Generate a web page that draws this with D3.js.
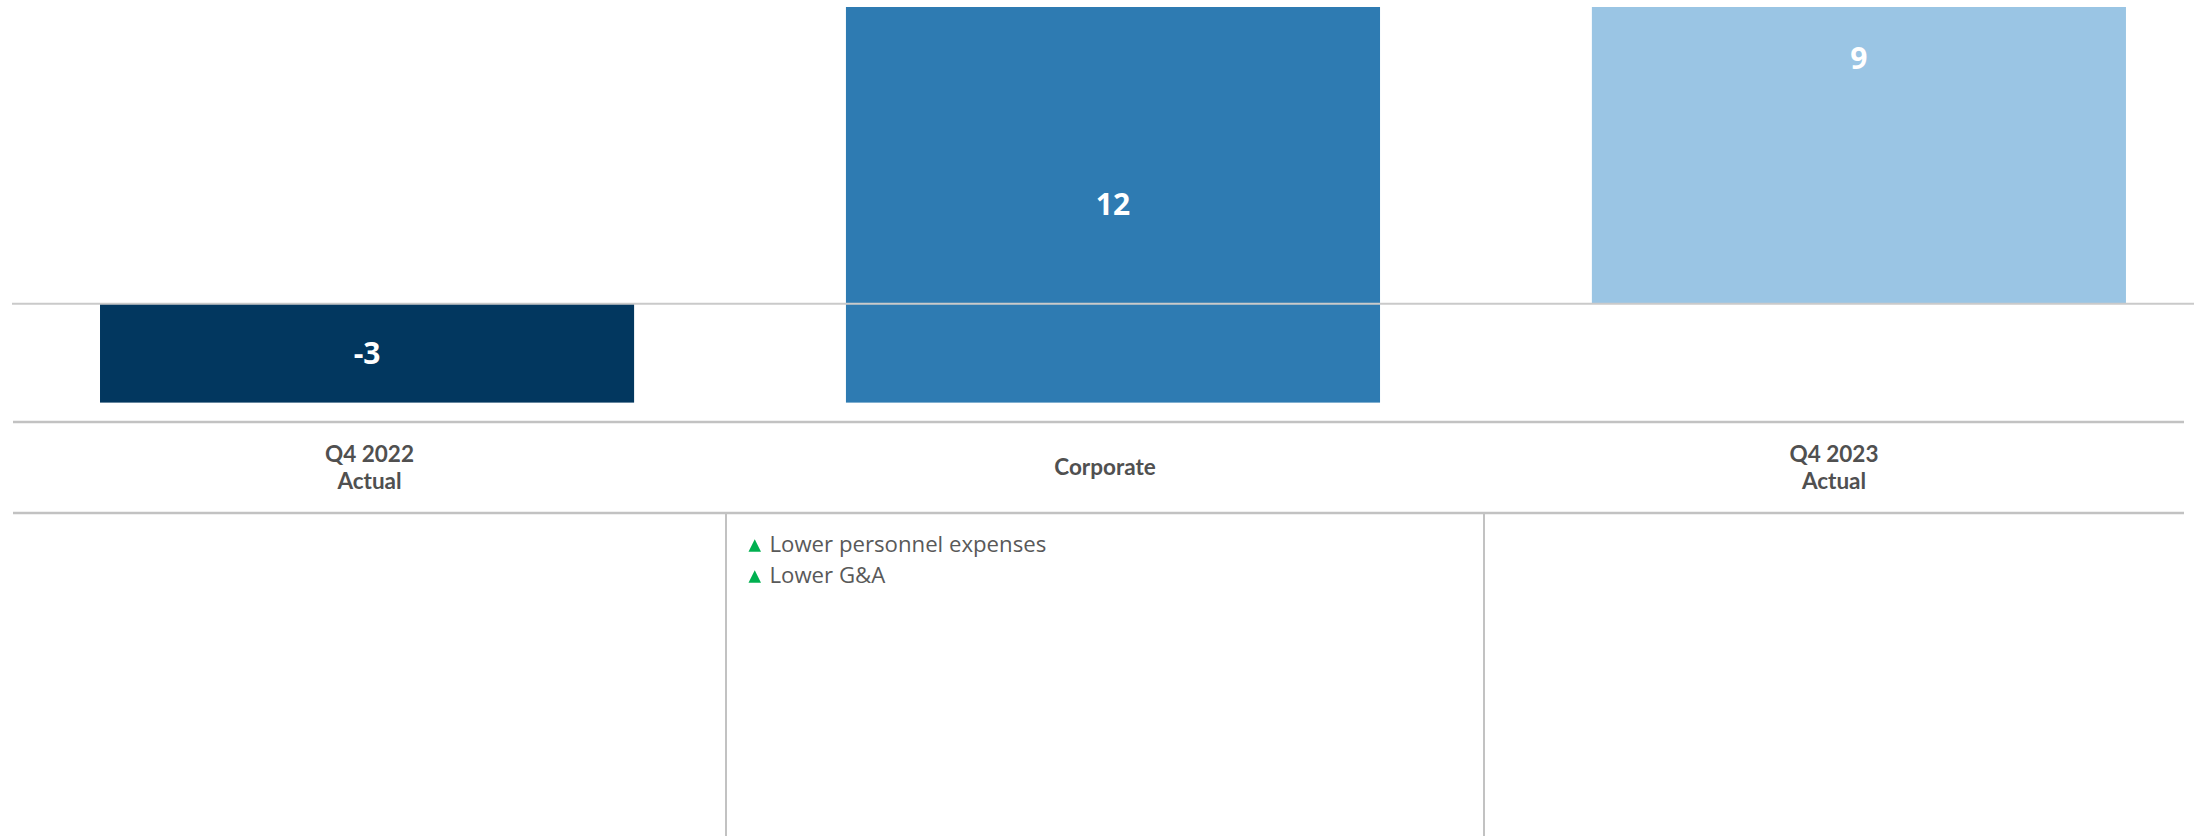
<!DOCTYPE html>
<html>
<head>
<meta charset="utf-8">
<script src="https://cdn.jsdelivr.net/npm/d3@7"></script>
<style>
  html, body { margin: 0; padding: 0; background: #ffffff; }
  svg { display: block; }
</style>
</head>
<body>
<div id="chart"></div>
<script>
// Bridge data: Q4 2022 result, corporate change, Q4 2023 result
const categories = ["Q4 2022 Actual", "Corporate", "Q4 2023 Actual"];
const categoryLabels = [["Q4 2022", "Actual"], ["Corporate"], ["Q4 2023", "Actual"]];
const values = [-3, 12, 9];
const barKinds = ["total", "delta", "total"];
const barColors = ["#02375F", "#2E7BB2", "#9AC5E4"];
const drivers = [
  [],
  [{ dir: "up", text: "Lower personnel expenses" }, { dir: "up", text: "Lower G&A" }],
  []
];

const W = 2208, H = 836;

// Stack the waterfall: totals start at zero, deltas start from the running level
let running = 0;
const bars = categories.map((c, i) => {
  let y0, y1;
  if (barKinds[i] === "total") { y0 = 0; y1 = values[i]; }
  else { y0 = running; y1 = running + values[i]; }
  running = y1;
  return { cat: c, value: values[i], kind: barKinds[i], y0, y1, color: barColors[i], i };
});

const svg = d3.select("#chart").append("svg")
  .attr("width", W).attr("height", H);

const x = d3.scaleBand()
  .domain(categories)
  .range([12, 2194])
  .paddingInner(0.284)
  .paddingOuter(0.1046)
  .align(0.564);

const yExtent = d3.extent(bars.flatMap(b => [b.y0, b.y1]));
const y = d3.scaleLinear().domain(yExtent).range([402.6, 7]);

// Bars
svg.append("g").selectAll("rect")
  .data(bars)
  .join("rect")
  .attr("x", d => x(d.cat))
  .attr("width", x.bandwidth())
  .attr("y", d => y(Math.max(d.y0, d.y1)))
  .attr("height", d => Math.abs(y(d.y0) - y(d.y1)))
  .attr("fill", d => d.color);

// Zero line over the bars
svg.append("line")
  .attr("x1", 12).attr("x2", 2194)
  .attr("y1", y(0)).attr("y2", y(0))
  .attr("stroke", "#CACACA").attr("stroke-width", 2);

// Value labels (plain hyphen for negatives)
svg.append("g").selectAll("text")
  .data(bars)
  .join("text")
  .attr("x", d => x(d.cat) + x.bandwidth() / 2)
  .attr("y", d => {
    const top = y(Math.max(d.y0, d.y1)), bot = y(Math.min(d.y0, d.y1));
    if (d.kind === "total" && d.value > 0) return top + 51;
    return (top + bot) / 2;
  })
  .attr("dy", "0.35em")
  .attr("text-anchor", "middle")
  .attr("fill", "#ffffff")
  .attr("font-family", "'Open Sans', sans-serif")
  .attr("font-weight", 700)
  .attr("font-size", 30)
  .text(d => String(d.value));

// Category table below the chart
const colEdges = [13, 726, 1484, 2184];
const rowTop = 422, rowBottom = 513;
const grid = svg.append("g").attr("stroke", "#C2C2C2").attr("stroke-width", 2.5);
[rowTop, rowBottom].forEach(yy => {
  grid.append("line").attr("x1", colEdges[0]).attr("x2", colEdges[3]).attr("y1", yy).attr("y2", yy);
});
grid.selectAll(".div")
  .data(colEdges.slice(1, 3))
  .join("line")
  .attr("x1", d => d).attr("x2", d => d)
  .attr("y1", rowBottom).attr("y2", H)
  .attr("stroke-width", 2);

const lineH = 27;
const catG = svg.append("g")
  .attr("font-family", "Lato, 'Open Sans', sans-serif")
  .attr("font-weight", 700)
  .attr("font-size", 22.5)
  .attr("fill", "#505050")
  .attr("text-anchor", "middle");
categoryLabels.forEach((lines, i) => {
  const cx = (colEdges[i] + colEdges[i + 1]) / 2;
  const mid = (rowTop + rowBottom) / 2;
  const firstBase = mid + 7.5 - (lines.length - 1) * lineH / 2;
  lines.forEach((ln, k) => {
    catG.append("text")
      .attr("x", cx)
      .attr("y", firstBase + k * lineH)
      .text(ln);
  });
});

// Driver bullets
const drvG = svg.append("g")
  .attr("font-family", "'Open Sans', sans-serif")
  .attr("font-size", 22.2)
  .attr("fill", "#595959");
drivers.forEach((list, i) => {
  list.forEach((d, k) => {
    const bx = colEdges[i] + 22.5;
    const base = 551.7 + k * 31;
    drvG.append("path")
      .attr("d", d.dir === "up"
        ? `M${bx},${base} L${bx + 12.5},${base} L${bx + 6.25},${base - 12.5} Z`
        : `M${bx},${base - 12.5} L${bx + 12.5},${base - 12.5} L${bx + 6.25},${base} Z`)
      .attr("fill", d.dir === "up" ? "#00B050" : "#E0301E");
    drvG.append("text")
      .attr("x", bx + 21)
      .attr("y", base)
      .text(d.text);
  });
});
</script>
</body>
</html>
